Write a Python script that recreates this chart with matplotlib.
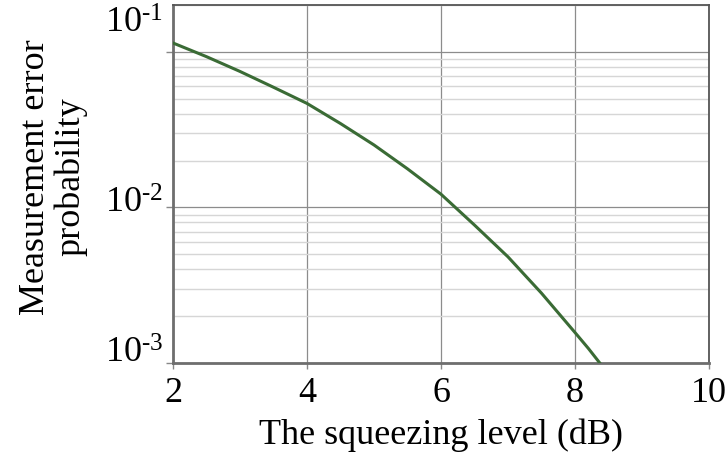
import numpy as np
import matplotlib.pyplot as plt
from matplotlib.ticker import LogLocator, NullFormatter
import matplotlib.transforms as mtransforms

# values
squeezing_db = [2.0, 2.5, 3.0, 3.5, 4.0, 4.5, 5.0, 5.5, 6.0, 6.5, 7.0, 7.5,
                8.0, 8.2, 8.37]
error_prob = [0.114, 0.0931, 0.0748, 0.0592, 0.0466, 0.0346, 0.0252, 0.0177,
              0.01216, 0.0077, 0.00481, 0.00281, 0.00157, 0.00124, 0.001]
x_ticks = [2, 4, 6, 8, 10]
y_ticks = [1e-3, 1e-2, 1e-1]
y_tick_labels = [r'$\mathdefault{10^{\text{-}3}}$', r'$\mathdefault{10^{\text{-}2}}$',
                 r'$\mathdefault{10^{\text{-}1}}$']
y_label_pos = [1.13e-3, 1.05e-2, 0.15]  # where the reference prints the labels

plt.rcParams['font.family'] = ['Liberation Serif', 'DejaVu Serif']
plt.rcParams['mathtext.fontset'] = 'custom'
plt.rcParams['mathtext.rm'] = 'Liberation Serif'
plt.rcParams['mathtext.it'] = 'Liberation Serif:italic'

fig = plt.figure(figsize=(7.26, 4.61), dpi=100)
ax = fig.add_axes([173 / 726, 1 - 363 / 461, (709 - 173) / 726, (363 - 5) / 461])

ax.plot(squeezing_db, error_prob, color='#3a6b35', lw=2.2, zorder=3)

ax.set_yscale('log')
ax.set_xlim(2, 10)
ax.set_ylim(1e-3, 0.2)
ax.set_xticks(x_ticks)
ax.set_yticks(y_ticks)
ax.yaxis.set_minor_locator(LogLocator(base=10, subs=np.arange(2, 10)))
ax.yaxis.set_major_formatter(NullFormatter())
ax.yaxis.set_minor_formatter(NullFormatter())

# grid
ax.grid(True, which='major', axis='both', color='#8c8c8c', lw=0.9, zorder=1)
ax.grid(True, which='minor', axis='y', color='#d6d6d6', lw=1.0, zorder=0)

ax.tick_params(axis='x', which='major', direction='out', length=4, width=1,
               color='#888888', labelsize=26, pad=6)
ax.tick_params(axis='y', which='major', direction='out', length=5, width=1,
               color='#888888')
ax.tick_params(axis='y', which='minor', length=0)

for side in ['left', 'bottom']:
    ax.spines[side].set_color('#6e6e6e')
    ax.spines[side].set_linewidth(2.0)
for side in ['top', 'right']:
    ax.spines[side].set_color('#555555')
    ax.spines[side].set_linewidth(1.3)

# y tick labels placed like in the reference
trans = mtransforms.blended_transform_factory(ax.transAxes, ax.transData)
for lab, pos in zip(y_tick_labels, y_label_pos):
    ax.text(-0.018, pos, lab, transform=trans, ha='right', va='center', fontsize=26)

ax.set_xlabel('The squeezing level (dB)', fontsize=26, labelpad=6)
ax.set_ylabel('Measurement error\nprobability', fontsize=26, linespacing=1.05)
ax.yaxis.set_label_coords(-0.16, 0.52)

fig.savefig('out.png', dpi=100)
